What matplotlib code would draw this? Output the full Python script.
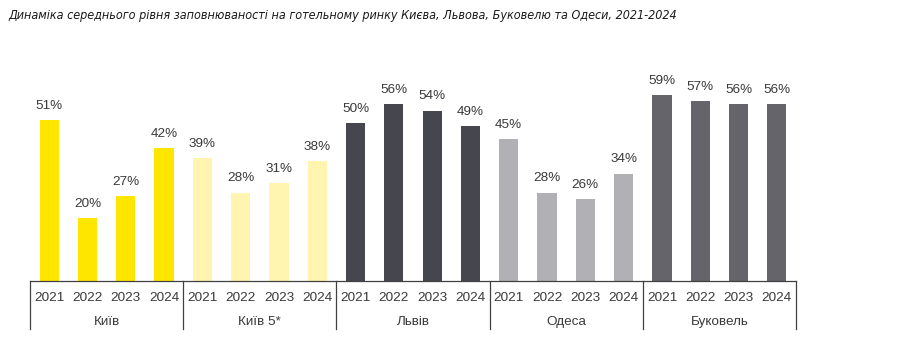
import matplotlib
matplotlib.use("Agg")
import matplotlib.pyplot as plt
from matplotlib import font_manager
import matplotlib.transforms as mtransforms

title = "Динаміка середнього рівня заповнюваності на готельному ринку Києва, Львова, Буковелю та Одеси, 2021-2024"
groups = ["Київ", "Київ 5*", "Львів", "Одеса", "Буковель"]
years = ["2021", "2022", "2023", "2024"]
kyiv = [51, 20, 27, 42]
kyiv5 = [39, 28, 31, 38]
lviv = [50, 56, 54, 49]
odesa = [45, 28, 26, 34]
bukovel = [59, 57, 56, 56]
series = [kyiv, kyiv5, lviv, odesa, bukovel]
colors = ["#FFE600", "#FFF5B0", "#46464F", "#B1B0B5", "#65646B"]

names = {f.name for f in font_manager.fontManager.ttflist}
base_font = "Liberation Sans" if "Liberation Sans" in names else "DejaVu Sans"
plt.rcParams["font.family"] = [base_font, "DejaVu Sans"]


def wnum(w):
    if isinstance(w, (int, float)):
        return w
    return {"normal": 400, "regular": 400, "book": 400, "medium": 500,
            "light": 300, "bold": 700}.get(str(w).lower(), 400)


# find a narrow, regular-weight italic font for the title
title_kw = dict(family=[base_font, "DejaVu Sans"])
if "Liberation Sans Narrow" in names:
    title_kw = dict(family=["Liberation Sans Narrow", "DejaVu Sans"])
else:
    cands = [f for f in font_manager.fontManager.ttflist
             if (str(f.stretch) in ("condensed", "semi-condensed", "500", "600")
                 or "Condensed" in f.fname or "Narrow" in f.fname)
             and f.style in ("italic", "oblique")]
    cands.sort(key=lambda f: abs(wnum(f.weight) - 400))
    if cands:
        title_kw = dict(fontproperties=font_manager.FontProperties(fname=cands[0].fname))

fig = plt.figure(figsize=(9.04, 3.49), dpi=100)
ax = fig.add_axes([30/904, 68/349, 766/904, 221/349])
txtc = "#3A3A3A"

x = 0
for g, vals in enumerate(series):
    for j, v in enumerate(vals):
        ax.bar(x, v, width=0.5, color=colors[g])
        ax.text(x, v + 2.6, f"{v}%", ha="center", va="bottom", fontsize=9.7, color=txtc)
        x += 1

n = sum(len(s) for s in series)
ax.set_xlim(-0.5, n - 0.5)
ax.set_ylim(0, 70)
ax.set_yticks([])
ax.set_xticks(range(n))
ax.set_xticklabels(years * len(groups), fontsize=9.7, color=txtc)
ax.tick_params(axis="x", length=0, pad=8)
for s in ["left", "right", "top"]:
    ax.spines[s].set_visible(False)
ax.spines["bottom"].set_color("#404040")
ax.spines["bottom"].set_linewidth(0.9)

trans = mtransforms.blended_transform_factory(ax.transData, ax.transAxes)
start = -0.5
for g, vals in enumerate(series):
    end = start + len(vals)
    ax.text((start + end) / 2, -0.186, groups[g], transform=trans, ha="center", va="center",
            fontsize=9.7, color=txtc)
    start = end
for k in range(len(groups) + 1):
    xs = -0.5 + 4 * k
    ax.plot([xs, xs], [0, -0.217], transform=trans, color="#404040", lw=0.9, clip_on=False)

t = fig.text(8/904, 1 - 15/349, title, style="italic", color="#1A1A1A",
             ha="left", va="center", **title_kw)
t.set_fontsize(11)
fig.canvas.draw()
w = t.get_window_extent().width
target = 600.0
fs = max(9.0, min(11.0, 11 * target / w))
t.set_fontsize(fs)

fig.savefig("out.png", dpi=100)
